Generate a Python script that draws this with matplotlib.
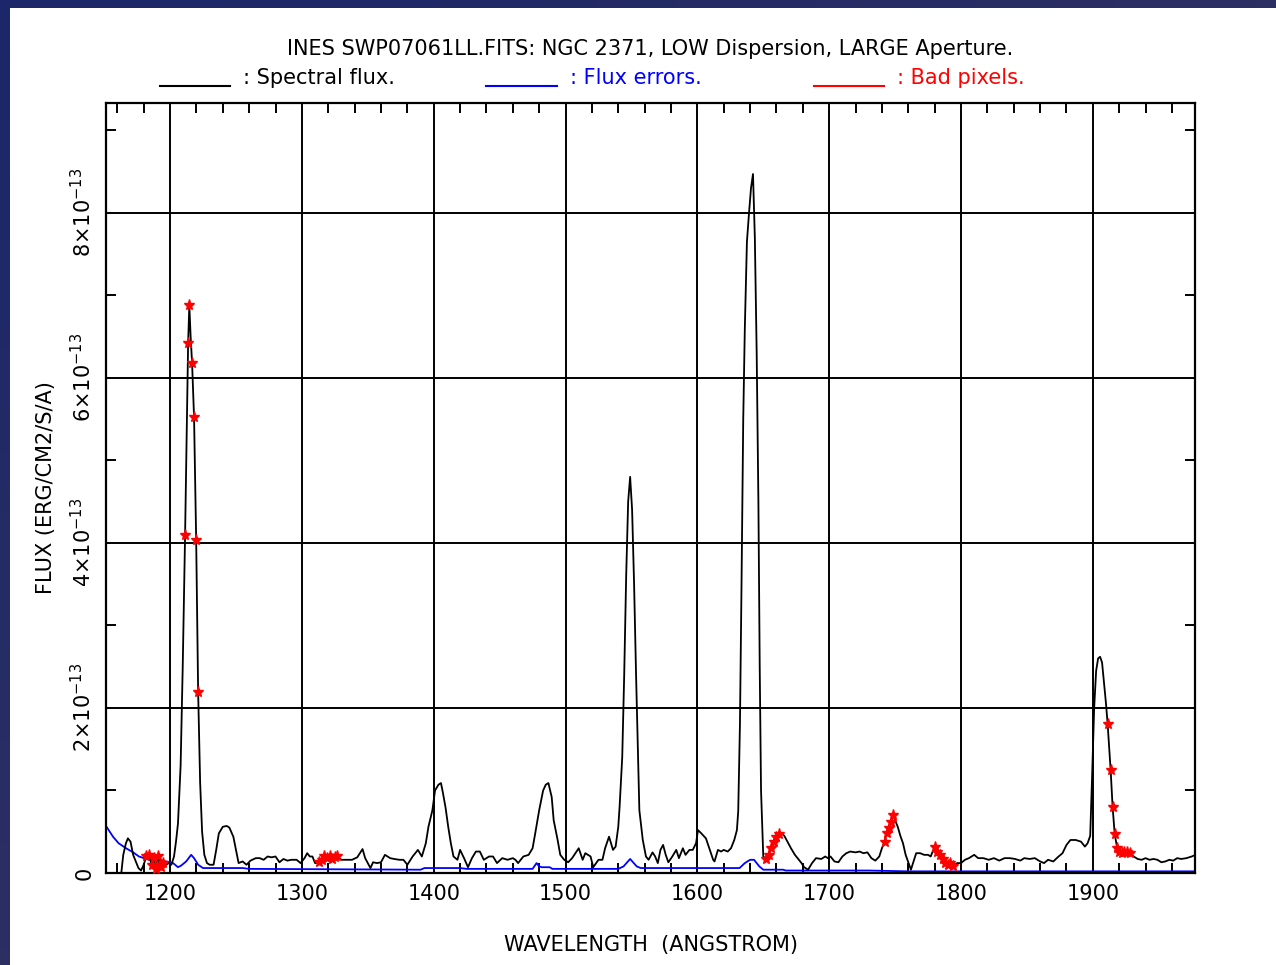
import numpy as np
import matplotlib
matplotlib.use('Agg')
import matplotlib.pyplot as plt
from matplotlib.lines import Line2D
from matplotlib.patches import Rectangle
from matplotlib.colors import LinearSegmentedColormap

# spectrum, flux in units of 1e-13 erg/cm2/s/A
wave = [1163, 1164.5, 1166.5, 1168, 1170, 1172, 1174, 1176, 1178, 1180,
        1182, 1184, 1186, 1187.5, 1189, 1190.5, 1192, 1193.5, 1195, 1197,
        1199, 1201, 1203, 1204.5, 1206, 1208, 1209.6, 1211.4, 1212.6, 1213.7,
        1214.6, 1215.6, 1216.7, 1218.2, 1219.8, 1221.3, 1222.8, 1224.3, 1226, 1228,
        1230, 1233, 1235, 1237, 1240, 1243, 1245, 1248, 1250, 1252,
        1255, 1258, 1261, 1265, 1268, 1271, 1274, 1277, 1280, 1283,
        1286, 1289, 1292, 1296, 1299, 1302, 1304, 1306, 1308, 1310,
        1313, 1315, 1317, 1319, 1321, 1323, 1325, 1327, 1330, 1334,
        1338, 1342, 1346, 1348, 1352, 1354, 1357, 1360, 1363, 1367,
        1370, 1374, 1377, 1380, 1384, 1388, 1391, 1394, 1396, 1399,
        1401, 1403.6, 1405.5, 1407, 1409, 1411, 1413, 1415, 1418, 1420,
        1423, 1426, 1429, 1432, 1435, 1438, 1442, 1445, 1448, 1452,
        1456, 1460, 1462, 1464, 1468, 1472, 1475, 1477, 1480, 1483,
        1485, 1487, 1489.5, 1491, 1494, 1496, 1499, 1502, 1505, 1510,
        1513, 1515, 1519, 1521, 1525, 1528, 1530, 1533, 1536, 1538,
        1540, 1541, 1543, 1544.5, 1546, 1547.5, 1549, 1550.5, 1552, 1553.5,
        1555, 1556, 1558.6, 1561, 1563, 1566, 1568, 1570, 1572, 1574,
        1576, 1578, 1581, 1584, 1586, 1589, 1591, 1594, 1596.5, 1599,
        1600.5, 1603, 1606.5, 1609, 1612, 1613, 1615.6, 1618, 1620, 1623,
        1625.5, 1628, 1630, 1631, 1632.3, 1633.5, 1634.8, 1636, 1637.6, 1639.2,
        1640.7, 1642.2, 1643.6, 1645, 1646.3, 1647.3, 1648.3, 1650, 1652, 1654,
        1656, 1658, 1660, 1662, 1664, 1666, 1669, 1671, 1674, 1676,
        1679, 1681, 1684, 1687, 1690, 1694, 1697, 1699, 1701, 1704,
        1707, 1710, 1713, 1716, 1720, 1723, 1726, 1729, 1732, 1735,
        1738, 1740, 1742, 1743.5, 1745, 1747, 1748.6, 1750, 1752, 1754,
        1756, 1758, 1760, 1762, 1764, 1766, 1769, 1772, 1775, 1777,
        1780, 1782, 1784, 1786, 1788, 1790, 1792, 1794, 1797, 1800,
        1803, 1806, 1810, 1813, 1817, 1821, 1825, 1829, 1833, 1837,
        1841, 1845, 1848, 1852, 1856, 1860, 1863, 1866, 1870, 1874,
        1877, 1880, 1883, 1887, 1891, 1894, 1896, 1898, 1899.5, 1901,
        1902.5, 1904, 1905.5, 1907, 1908.5, 1910, 1911.2, 1913.5, 1915, 1916.6,
        1918.5, 1920, 1922, 1924, 1926, 1928, 1931, 1934, 1937, 1940,
        1943, 1946, 1949, 1952, 1955, 1958, 1961, 1964, 1967, 1971,
        1975, 1978]
flux = [0.0, 0.22, 0.36, 0.42, 0.38, 0.22, 0.14, 0.06, 0.03, 0.1,
        0.2, 0.22, 0.1, 0.18, 0.05, 0.2, 0.1, 0.07, 0.12, 0.1,
        0.12, 0.1, 0.2, 0.38, 0.6, 1.3, 2.5, 4.10, 5.3, 6.42,
        6.88, 6.5, 6.18, 5.52, 4.04, 2.19, 1.1, 0.5, 0.22, 0.12,
        0.1, 0.1, 0.28, 0.48, 0.56, 0.57, 0.55, 0.44, 0.28, 0.12,
        0.14, 0.1, 0.15, 0.18, 0.18, 0.16, 0.2, 0.19, 0.2, 0.13,
        0.17, 0.15, 0.16, 0.16, 0.12, 0.18, 0.24, 0.2, 0.2, 0.12,
        0.13, 0.16, 0.2, 0.18, 0.21, 0.17, 0.19, 0.2, 0.16, 0.16,
        0.16, 0.19, 0.29, 0.18, 0.06, 0.13, 0.12, 0.13, 0.22, 0.18,
        0.17, 0.16, 0.16, 0.1, 0.2, 0.28, 0.2, 0.36, 0.56, 0.76,
        1.0, 1.07, 1.09, 0.97, 0.79, 0.56, 0.36, 0.2, 0.16, 0.28,
        0.18, 0.07, 0.18, 0.26, 0.26, 0.16, 0.2, 0.2, 0.12, 0.18,
        0.16, 0.18, 0.16, 0.12, 0.2, 0.22, 0.3, 0.48, 0.76, 1.0,
        1.07, 1.09, 0.92, 0.64, 0.4, 0.22, 0.16, 0.13, 0.18, 0.3,
        0.16, 0.24, 0.2, 0.07, 0.16, 0.16, 0.3, 0.44, 0.28, 0.32,
        0.56, 0.8, 1.4, 2.4, 3.6, 4.5, 4.8, 4.4, 3.5, 2.4,
        1.4, 0.76, 0.4, 0.2, 0.16, 0.25, 0.2, 0.12, 0.28, 0.34,
        0.22, 0.13, 0.2, 0.28, 0.18, 0.3, 0.22, 0.28, 0.28, 0.36,
        0.52, 0.48, 0.42, 0.3, 0.16, 0.14, 0.28, 0.26, 0.28, 0.26,
        0.3, 0.4, 0.52, 0.75, 1.8, 3.5, 5.5, 6.6, 7.65, 8.0,
        8.3, 8.47, 7.7, 6.3, 4.5, 2.5, 1.0, 0.2, 0.17, 0.22,
        0.3, 0.38, 0.44, 0.47, 0.48, 0.45, 0.36, 0.3, 0.22, 0.18,
        0.12, 0.07, 0.04, 0.12, 0.18, 0.17, 0.2, 0.18, 0.2, 0.14,
        0.13, 0.2, 0.24, 0.26, 0.25, 0.26, 0.24, 0.25, 0.18, 0.15,
        0.2, 0.3, 0.38, 0.48, 0.55, 0.62, 0.7, 0.64, 0.56, 0.45,
        0.36, 0.22, 0.13, 0.04, 0.14, 0.24, 0.24, 0.22, 0.22, 0.2,
        0.32, 0.26, 0.22, 0.17, 0.12, 0.1, 0.12, 0.08, 0.12, 0.12,
        0.16, 0.18, 0.22, 0.18, 0.18, 0.16, 0.18, 0.15, 0.18, 0.18,
        0.17, 0.15, 0.18, 0.17, 0.18, 0.14, 0.12, 0.16, 0.14, 0.2,
        0.24, 0.34, 0.4, 0.4, 0.38, 0.32, 0.36, 0.45, 1.2, 2.0,
        2.45, 2.6, 2.62, 2.55, 2.3, 2.05, 1.81, 1.25, 0.8, 0.47,
        0.3, 0.26, 0.24, 0.26, 0.25, 0.24, 0.2, 0.17, 0.16, 0.18,
        0.16, 0.17, 0.16, 0.13, 0.14, 0.16, 0.15, 0.18, 0.17, 0.18,
        0.2, 0.22]

# flux errors
err_wave = [1151.4, 1156.7, 1161, 1166.6, 1172, 1176.4, 1184, 1191.6, 1197, 1202.3,
            1206, 1208.4, 1212.2, 1216, 1218.2, 1221.3, 1225, 1255, 1260, 1390,
            1393, 1420, 1425, 1475, 1478, 1480, 1482, 1488, 1490, 1540,
            1544, 1549, 1554, 1557, 1632, 1636, 1640, 1643, 1647, 1650,
            1665, 1667, 1730, 1760, 1978]
err_flux = [0.57, 0.44, 0.36, 0.30, 0.25, 0.2, 0.16, 0.16, 0.14, 0.12,
            0.07, 0.09, 0.14, 0.22, 0.18, 0.1, 0.06, 0.06, 0.05, 0.04,
            0.06, 0.06, 0.05, 0.05, 0.12, 0.08, 0.07, 0.07, 0.05, 0.05,
            0.08, 0.17, 0.08, 0.06, 0.06, 0.12, 0.16, 0.16, 0.08, 0.04,
            0.04, 0.03, 0.03, 0.02, 0.02]

# bad pixels (red stars)
bad_wave = [1182, 1184, 1186, 1187.5, 1189, 1190.5, 1192, 1193.5, 1195,
            1211.4, 1213.7, 1214.6, 1216.7, 1218.2, 1219.8, 1221.3,
            1313, 1315, 1317, 1319, 1321, 1323, 1325, 1327,
            1652, 1654, 1656, 1658, 1660, 1662,
            1742, 1743.5, 1745, 1747, 1748.6,
            1780, 1782, 1784, 1786, 1788, 1790, 1792, 1794,
            1911.2, 1913.5, 1915, 1916.6, 1918.5, 1920, 1922, 1924, 1926, 1928]
bad_flux = [0.2, 0.22, 0.1, 0.18, 0.05, 0.2, 0.1, 0.07, 0.12,
            4.10, 6.42, 6.88, 6.18, 5.52, 4.04, 2.19,
            0.13, 0.16, 0.2, 0.18, 0.21, 0.17, 0.19, 0.2,
            0.17, 0.22, 0.3, 0.38, 0.44, 0.47,
            0.38, 0.48, 0.55, 0.62, 0.7,
            0.32, 0.26, 0.22, 0.17, 0.12, 0.1, 0.12, 0.08,
            1.81, 1.25, 0.8, 0.47, 0.3, 0.26, 0.24, 0.26, 0.25, 0.24]

xticks = [1200, 1300, 1400, 1500, 1600, 1700, 1800, 1900]
yticks = [0, 2, 4, 6, 8]
ytick_labels = ['0', r'$2{\times}10^{-13}$', r'$4{\times}10^{-13}$',
                r'$6{\times}10^{-13}$', r'$8{\times}10^{-13}$']

scale = 1e-13
W, H = 1276, 965

fig = plt.figure(figsize=(W / 100.0, H / 100.0), dpi=100)

# navy frame behind the white page
bg = fig.add_axes([0, 0, 1, 1])
cmap = LinearSegmentedColormap.from_list('frame', ['#1b2769', '#2c2f63', '#3d3b5c'])
gx, gy = np.meshgrid(np.linspace(0, 1, 64), np.linspace(0, 1, 64))
bg.imshow((gx + gy) / 2.0, cmap=cmap, extent=[0, 1, 0, 1], aspect='auto', origin='upper')
bg.add_patch(Rectangle((10.0 / W, 0), 1 - 10.0 / W, 1 - 8.0 / H, facecolor='white',
                       edgecolor='none'))
bg.set_xlim(0, 1)
bg.set_ylim(0, 1)
bg.axis('off')

ax = fig.add_axes([106.0 / W, 1 - 873.0 / H, (1195 - 106.0) / W, (873 - 103.0) / H])
ax.set_facecolor('white')

for xv in xticks:
    ax.axvline(xv, color='black', lw=1.4, zorder=1)
for yv in yticks[1:]:
    ax.axhline(yv * scale, color='black', lw=1.4, zorder=1)

ax.plot(wave, np.array(flux) * scale, color='black', lw=1.3, zorder=3)
ax.plot(err_wave, np.array(err_flux) * scale, color='#0000ff', lw=1.3, zorder=2)
ax.plot(bad_wave, np.array(bad_flux) * scale, ls='none', marker='*', ms=8,
        color='#ff0000', mec='#ff0000', zorder=4)

ax.set_xlim(1151.4, 1977.5)
ax.set_ylim(0, 9.33 * scale)

ax.set_xticks(xticks)
ax.set_xticklabels([str(v) for v in xticks], fontsize=15)
ax.set_xticks(np.arange(1160, 1980, 20), minor=True)
ax.set_yticks([v * scale for v in yticks])
ax.set_yticklabels(ytick_labels, fontsize=15, rotation=90, va='center')
ax.set_yticks(np.arange(1, 10, 2) * scale, minor=True)
ax.tick_params(which='both', direction='in', top=True, right=True, width=1.4)
ax.tick_params(which='major', length=0, pad=8)
ax.tick_params(which='minor', length=7)
for s in ax.spines.values():
    s.set_linewidth(1.6)

ax.set_xlabel('WAVELENGTH  (ANGSTROM)', fontsize=15, labelpad=22)
ax.set_ylabel('FLUX (ERG/CM2/S/A)', fontsize=15, labelpad=10)

fig.text(650.0 / W, 1 - 49.0 / H, 'INES SWP07061LL.FITS: NGC 2371, LOW Dispersion, LARGE Aperture.',
         ha='center', va='center', fontsize=15)

legend = [(160, 230, 243, ': Spectral flux.', 'black'),
          (486, 557, 570, ': Flux errors.', '#0000ff'),
          (814, 884, 897, ': Bad pixels.', '#ff0000')]
for x0, x1, xt, txt, col in legend:
    fig.add_artist(Line2D([x0 / float(W), x1 / float(W)], [1 - 86.0 / H, 1 - 86.0 / H],
                          color=col, lw=1.5))
    fig.text(xt / float(W), 1 - 78.0 / H, txt, color=col, ha='left', va='center', fontsize=15)

plt.savefig('out.png', dpi=100)
